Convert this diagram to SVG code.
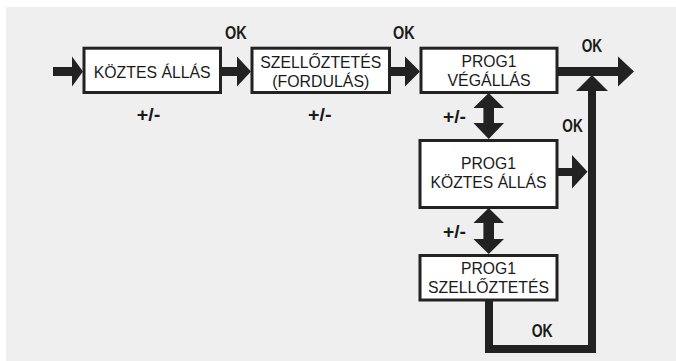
<svg xmlns="http://www.w3.org/2000/svg" width="676" height="361" viewBox="0 0 676 361">
<style>
.box{fill:#fff;stroke:#222;stroke-width:3}
.t{font-family:"Liberation Sans",Arial,sans-serif;font-size:17px;fill:#1a1a1a;text-anchor:middle}
.b{font-family:"Liberation Sans",Arial,sans-serif;font-weight:bold;font-size:18px;fill:#1a1a1a}
.a{fill:#222}
.l{fill:none;stroke:#222;stroke-width:8;stroke-linejoin:miter}
</style>
<rect x="0" y="0" width="676" height="361" fill="#fff"/>
<rect x="6" y="7" width="670" height="354" fill="#efefef"/>
<g id="connectors">
<polygon class="a" points="53,67 72,67 72,56.5 83,71.5 72,86.5 72,76 53,76"/>
<polygon class="a" points="221,67 237,67 237,56.5 251,71.5 237,86.5 237,76 221,76"/>
<polygon class="a" points="390,67 405,67 405,56.5 420,71.5 405,86.5 405,76 390,76"/>
<polygon class="a" points="557,67 618,67 618,56.5 634,71.5 618,86.5 618,76 557,76"/>
<polyline class="l" points="489,300 489,349 592,349 592,90"/>
<polygon class="a" points="576,91 592,75 608,91"/>
<polygon class="a" points="557,168 572,168 572,155 587.5,171.7 572,188.5 572,176 557,176"/>
<polygon class="a" points="488.7,93 504,108 494,108 494,123 504,123 488.7,139 473.4,123 483.4,123 483.4,108 473.4,108"/>
<polygon class="a" points="488.7,208 504,223 494,223 494,239 504,239 488.7,254 473.4,239 483.4,239 483.4,223 473.4,223"/>
<text class="b" x="225" y="39.3" textLength="21.7" lengthAdjust="spacingAndGlyphs">OK</text>
<text class="b" x="393" y="39.3" textLength="21.7" lengthAdjust="spacingAndGlyphs">OK</text>
<text class="b" x="581.7" y="51.7" textLength="20.5" lengthAdjust="spacingAndGlyphs">OK</text>
<text class="b" x="562.3" y="131.7" textLength="20.5" lengthAdjust="spacingAndGlyphs">OK</text>
<text class="b" x="531.7" y="337.3" textLength="21" lengthAdjust="spacingAndGlyphs">OK</text>
<text class="b" x="136.7" y="121" textLength="23.5" lengthAdjust="spacingAndGlyphs">+/-</text>
<text class="b" x="308" y="121" textLength="23.5" lengthAdjust="spacingAndGlyphs">+/-</text>
<text class="b" x="443" y="123" textLength="23" lengthAdjust="spacingAndGlyphs">+/-</text>
<text class="b" x="443" y="238" textLength="23" lengthAdjust="spacingAndGlyphs">+/-</text>
</g>
<g id="n1">
<rect class="box" x="84" y="48.2" width="136.5" height="44.3"/>
<text class="t" x="152.2" y="77.5" textLength="117" lengthAdjust="spacingAndGlyphs">KÖZTES ÁLLÁS</text>
</g>
<g id="n2">
<rect class="box" x="252" y="48.2" width="137.5" height="44.3"/>
<text class="t" x="320.8" y="68" textLength="121" lengthAdjust="spacingAndGlyphs">SZELLŐZTETÉS</text>
<text class="t" x="320.8" y="86.5" textLength="97" lengthAdjust="spacingAndGlyphs">(FORDULÁS)</text>
</g>
<g id="n3">
<rect class="box" x="421" y="48.2" width="136" height="44.3"/>
<text class="t" x="489" y="66.5" textLength="55" lengthAdjust="spacingAndGlyphs">PROG1</text>
<text class="t" x="489" y="85.5" textLength="83" lengthAdjust="spacingAndGlyphs">VÉGÁLLÁS</text>
</g>
<g id="n4">
<rect class="box" x="420" y="140.5" width="137" height="67"/>
<text class="t" x="488.5" y="168.5" textLength="55" lengthAdjust="spacingAndGlyphs">PROG1</text>
<text class="t" x="488.5" y="187.5" textLength="116" lengthAdjust="spacingAndGlyphs">KÖZTES ÁLLÁS</text>
</g>
<g id="n5">
<rect class="box" x="420" y="255.5" width="137" height="44.5"/>
<text class="t" x="488.5" y="274" textLength="55" lengthAdjust="spacingAndGlyphs">PROG1</text>
<text class="t" x="488.5" y="293" textLength="121" lengthAdjust="spacingAndGlyphs">SZELLŐZTETÉS</text>
</g>
</svg>
